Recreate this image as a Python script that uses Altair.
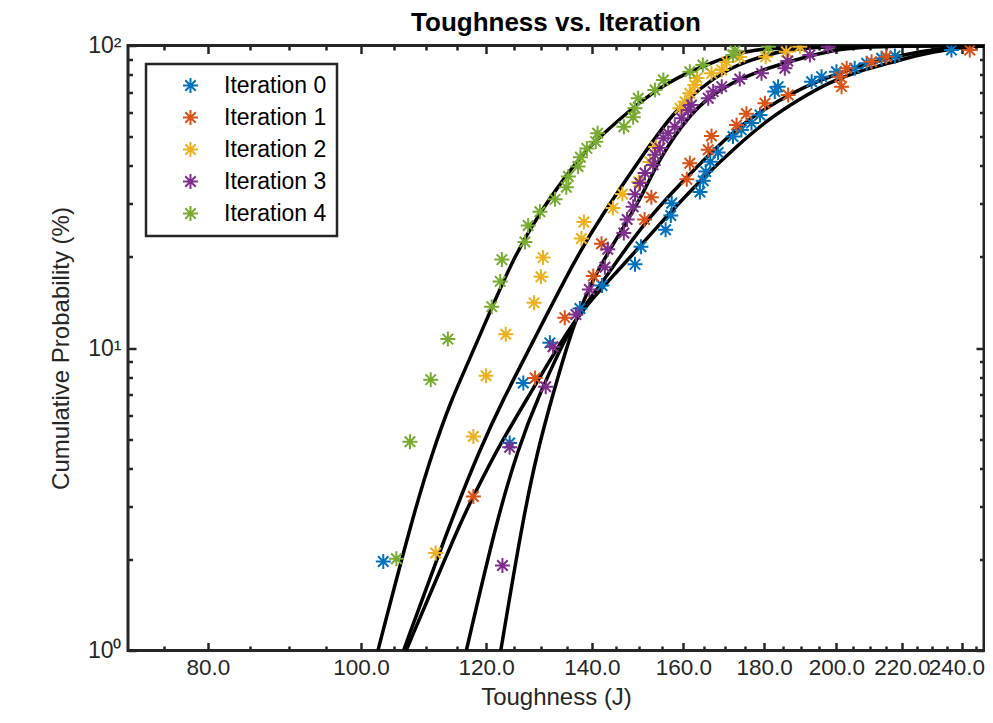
import altair as alt
import pandas as pd

FONT = "Liberation Sans, Arial, Helvetica, sans-serif"
AXC = "#262626"

series_names = ["Iteration 0", "Iteration 1", "Iteration 2", "Iteration 3", "Iteration 4"]
series_colors = ["#0072BD", "#D95319", "#EDB120", "#7E2F8E", "#77AC30"]

# measured points (toughness J, cumulative probability %)
it0_x = [103.3, 124.2, 126.7, 131.7, 137.6, 142.1, 149.1, 150.4, 155.9, 157.1, 157.3, 163.9, 164.7, 165.3, 166.4,
         168.3, 172.0, 174.1, 176.7, 178.9, 182.8, 183.7, 192.9, 195.7, 200.0, 205.4, 209.0, 213.6, 217.8, 236.5]
it0_y = [1.97, 4.85, 7.66, 10.4, 13.5, 16.1, 18.9, 21.6, 24.6, 27.4, 30.1, 32.8, 35.7, 38.3, 41.3,
         44.3, 50.0, 52.6, 55.4, 58.9, 70.4, 73.1, 75.9, 78.9, 81.9, 84.1, 87.4, 90.7, 92.3, 96.6]

it1_x = [117.8, 128.9, 134.6, 140.3, 142.0, 151.2, 152.7, 160.8, 161.5, 165.9, 166.7, 172.9, 175.4, 180.2, 186.4,
         201.5, 201.0, 203.0, 210.5, 215.1, 242.9]
it1_y = [3.23, 7.96, 12.6, 17.3, 22.1, 26.6, 31.5, 36.1, 40.8, 45.2, 50.2, 54.6, 59.5, 64.4, 68.6,
         73.1, 78.9, 84.1, 88.4, 91.8, 96.6]

it2_x = [111.5, 117.8, 120.0, 123.5, 128.7, 130.0, 130.4, 137.9, 138.4, 144.4, 146.4, 149.9, 152.4, 153.7, 159.2,
         160.4, 161.5, 162.7, 163.2, 166.7, 169.2, 170.4, 173.7, 180.4, 185.9, 189.6]
it2_y = [2.10, 5.10, 8.10, 11.1, 14.1, 17.2, 19.9, 23.0, 26.1, 29.0, 32.3, 35.4, 41.2, 46.2, 62.0,
         65.2, 69.5, 74.0, 78.1, 80.9, 83.0, 88.2, 91.6, 91.8, 95.4, 99.1]

it3_x = [122.9, 124.2, 130.9, 132.3, 136.8, 139.5, 142.7, 143.3, 146.7, 147.4, 148.7, 149.1, 150.2, 151.3, 153.1,
         153.5, 154.6, 155.4, 156.5, 158.0, 159.6, 161.1, 161.9, 165.9, 167.1, 169.2, 173.7, 179.3, 185.5, 186.3,
         192.4, 197.6]
it3_y = [1.91, 4.70, 7.45, 10.1, 12.9, 15.6, 18.5, 21.2, 24.0, 26.6, 29.3, 32.2, 35.1, 37.9, 40.3,
         43.5, 45.8, 49.4, 51.3, 53.9, 57.5, 61.2, 63.6, 66.9, 70.4, 73.1, 77.5, 80.9, 84.1, 88.9,
         93.0, 99.1]

it4_x = [105.3, 107.4, 110.7, 113.5, 121.0, 122.5, 122.8, 127.0, 127.6, 129.8, 132.7, 134.9, 135.3, 137.2, 137.7,
         139.0, 140.8, 141.2, 146.7, 148.7, 149.1, 149.8, 153.5, 155.4, 161.5, 164.6, 172.0, 172.5, 181.1]
it4_y = [2.01, 4.90, 7.86, 10.7, 13.7, 16.6, 19.6, 22.4, 25.4, 28.2, 31.0, 34.0, 36.9, 39.8, 42.7,
         45.7, 48.1, 51.3, 53.9, 57.9, 62.0, 66.9, 71.3, 76.9, 81.9, 86.2, 93.0, 96.1, 99.1]

# fitted curves
fit0_x = [116.6, 121.9, 125.7, 129.2, 136.6, 141.0, 145.4, 152.4, 160.6, 169.2, 176.8, 184.2, 192.4, 201.0, 210.9,
          221.5, 232.6, 244.0, 250.0]
fit0_y = [1.0, 2.71, 4.61, 6.75, 12.6, 15.5, 19.6, 27.3, 36.5, 48.0, 58.1, 66.1, 74.6, 81.1, 88.2,
          93.7, 97.7, 99.6, 100.0]

fit1_x = [106.8, 115.8, 117.8, 121.9, 127.3, 136.6, 142.3, 147.6, 155.8, 163.9, 173.2, 181.5, 189.6, 198.1, 206.9,
          216.2, 225.9, 236.0, 244.7, 250.0]
fit1_y = [1.0, 2.71, 3.23, 4.61, 6.75, 12.6, 15.9, 19.6, 26.9, 35.7, 46.9, 57.5, 66.6, 75.8, 82.4,
          87.5, 93.4, 97.3, 99.4, 100.0]

fit2_x = [106.4, 114.1, 118.9, 123.0, 127.9, 136.6, 141.7, 151.6, 157.6, 163.9, 170.4, 176.3, 186.9, 201.0, 250.0]
fit2_y = [1.0, 2.71, 4.61, 6.75, 10.0, 19.6, 26.9, 45.2, 59.8, 72.3, 83.0, 89.6, 97.9, 99.6, 100.0]

fit3_x = [122.6, 126.6, 129.4, 132.0, 136.6, 141.7, 146.5, 151.3, 154.6, 161.0, 166.8, 176.3, 191.5, 201.0, 216.2, 250.0]
fit3_y = [1.0, 2.71, 4.61, 6.75, 12.6, 18.8, 24.8, 33.3, 42.5, 58.1, 69.2, 81.1, 91.8, 97.9, 99.6, 100.0]

fit4_x = [102.5, 107.7, 111.1, 114.1, 116.6, 121.0, 124.8, 129.2, 134.9, 138.9, 141.7, 148.7, 156.1, 163.9, 172.0,
          176.3, 189.6, 204.0, 250.0]
fit4_y = [1.0, 2.71, 4.61, 6.75, 8.67, 13.6, 19.6, 27.1, 37.3, 45.2, 49.9, 62.6, 75.2, 84.9, 93.0,
          96.6, 99.2, 99.9, 100.0]

x_major = [80, 100, 120, 140, 160, 180, 200, 220, 240]
x_minor = [75, 85, 90, 95, 105, 110, 115, 125, 130, 135, 145, 150, 155, 165, 170, 175, 185, 190, 195,
           205, 210, 215, 225, 230, 235, 245]
y_major = [1, 10, 100]
y_minor = [2, 3, 4, 5, 6, 7, 8, 9, 20, 30, 40, 50, 60, 70, 80, 90]

pts_x = [it0_x, it1_x, it2_x, it3_x, it4_x]
pts_y = [it0_y, it1_y, it2_y, it3_y, it4_y]
fits_x = [fit0_x, fit1_x, fit2_x, fit3_x, fit4_x]
fits_y = [fit0_y, fit1_y, fit2_y, fit3_y, fit4_y]

rows = []
for name, xs_, ys_ in zip(series_names, pts_x, pts_y):
    for a, b in zip(xs_, ys_):
        rows.append({"series": name, "tough": a, "prob": b})
points = pd.DataFrame(rows)

rows = []
for name, xs_, ys_ in zip(series_names, fits_x, fits_y):
    for i, (a, b) in enumerate(zip(xs_, ys_)):
        rows.append({"fit": name, "order": i, "tough": a, "prob": b})
curves = pd.DataFrame(rows)

STAR = "M-1,0L1,0M0,-1L0,1M-0.7,-0.7L0.7,0.7M-0.7,0.7L0.7,-0.7"

xs = alt.Scale(type="log", domain=[71.2, 248.0], nice=False)
ys = alt.Scale(type="log", domain=[1, 100], nice=False)

common = dict(domain=False, grid=False, tickColor=AXC, tickWidth=2.5, labelFont=FONT,
              labelColor=AXC, titleFont=FONT, titleColor=AXC, titleFontWeight="normal")


def xaxis(orient, values, size, labels=False, title=None):
    kw = dict(common)
    kw.update(orient=orient, values=values, tickSize=alt.ExprRef(expr=str(-size)))
    if labels:
        kw.update(labels=True, format=".1f", labelFontSize=22.5, labelPadding=6 + size,
                  labelOverlap=False, labelFlush=25, labelFlushOffset=23,
                  title=title, titleFontSize=24, titlePadding=6)
    else:
        kw.update(labels=False, title=None)
    return alt.Axis(**kw)


def yaxis(orient, values, size, labels=False, title=None):
    kw = dict(common)
    kw.update(orient=orient, values=values, tickSize=alt.ExprRef(expr=str(-size)))
    if labels:
        kw.update(labels=True, labelFontSize=23, labelPadding=7 + size, labelOverlap=False,
                  labelFlush=False,
                  labelExpr="datum.value == 1 ? '10⁰' : datum.value == 10 ? '10¹' : '10²'",
                  title=title, titleFontSize=24, titlePadding=14)
    else:
        kw.update(labels=False, title=None)
    return alt.Axis(**kw)


minor_a = alt.Chart(points).mark_point(opacity=0).encode(
    x=alt.X("tough:Q", scale=xs, axis=xaxis("bottom", x_minor, 4.5)),
    y=alt.Y("prob:Q", scale=ys, axis=yaxis("left", y_minor, 4.5)),
)
minor_b = alt.Chart(points).mark_point(opacity=0).encode(
    x=alt.X("tough:Q", scale=xs, axis=xaxis("top", x_minor, 4.5)),
    y=alt.Y("prob:Q", scale=ys, axis=yaxis("right", y_minor, 4.5)),
)

lines = alt.Chart(curves).mark_line(color="black", strokeWidth=3.5, clip=True, interpolate="basis").encode(
    x=alt.X("tough:Q", scale=xs, axis=xaxis("bottom", x_major, 8, labels=True, title="Toughness (J)")),
    y=alt.Y("prob:Q", scale=ys, axis=yaxis("left", y_major, 8, labels=True, title="Cumulative Probability (%)")),
    detail="fit:N",
    order="order:Q",
)

pts = alt.Chart(points).mark_point(shape=STAR, filled=False, size=225, strokeWidth=2, opacity=1, clip=True).encode(
    x=alt.X("tough:Q", scale=xs, axis=xaxis("top", x_major, 8)),
    y=alt.Y("prob:Q", scale=ys, axis=yaxis("right", y_major, 8)),
    color=alt.Color("series:N", scale=alt.Scale(domain=series_names, range=series_colors),
                    legend=alt.Legend(title=None, orient="none", legendX=18, legendY=18.5,
                                      fillColor="white", strokeColor=AXC, padding=10,
                                      symbolOffset=23, labelOffset=22, rowPadding=8,
                                      symbolSize=225, symbolType=STAR, symbolStrokeWidth=2,
                                      labelFont=FONT, labelFontSize=23, labelColor="black",
                                      labelLimit=400)),
)

chart = alt.layer(minor_a, minor_b, lines, pts).resolve_axis(
    x="independent", y="independent"
).properties(
    width=856, height=605,
    autosize=alt.AutoSizeParams(type="none"),
    padding={"left": 120, "top": 37.5, "right": 1, "bottom": 59.5},
    title=alt.TitleParams("Toughness vs. Iteration", font=FONT, fontSize=26, fontWeight="bold",
                          color="black", anchor="middle", offset=0, dy=1),
).configure_view(stroke=AXC, strokeWidth=3).configure_legend(strokeWidth=2.5)

chart.save("out.html", embed_options={"renderer": "svg", "actions": False})
